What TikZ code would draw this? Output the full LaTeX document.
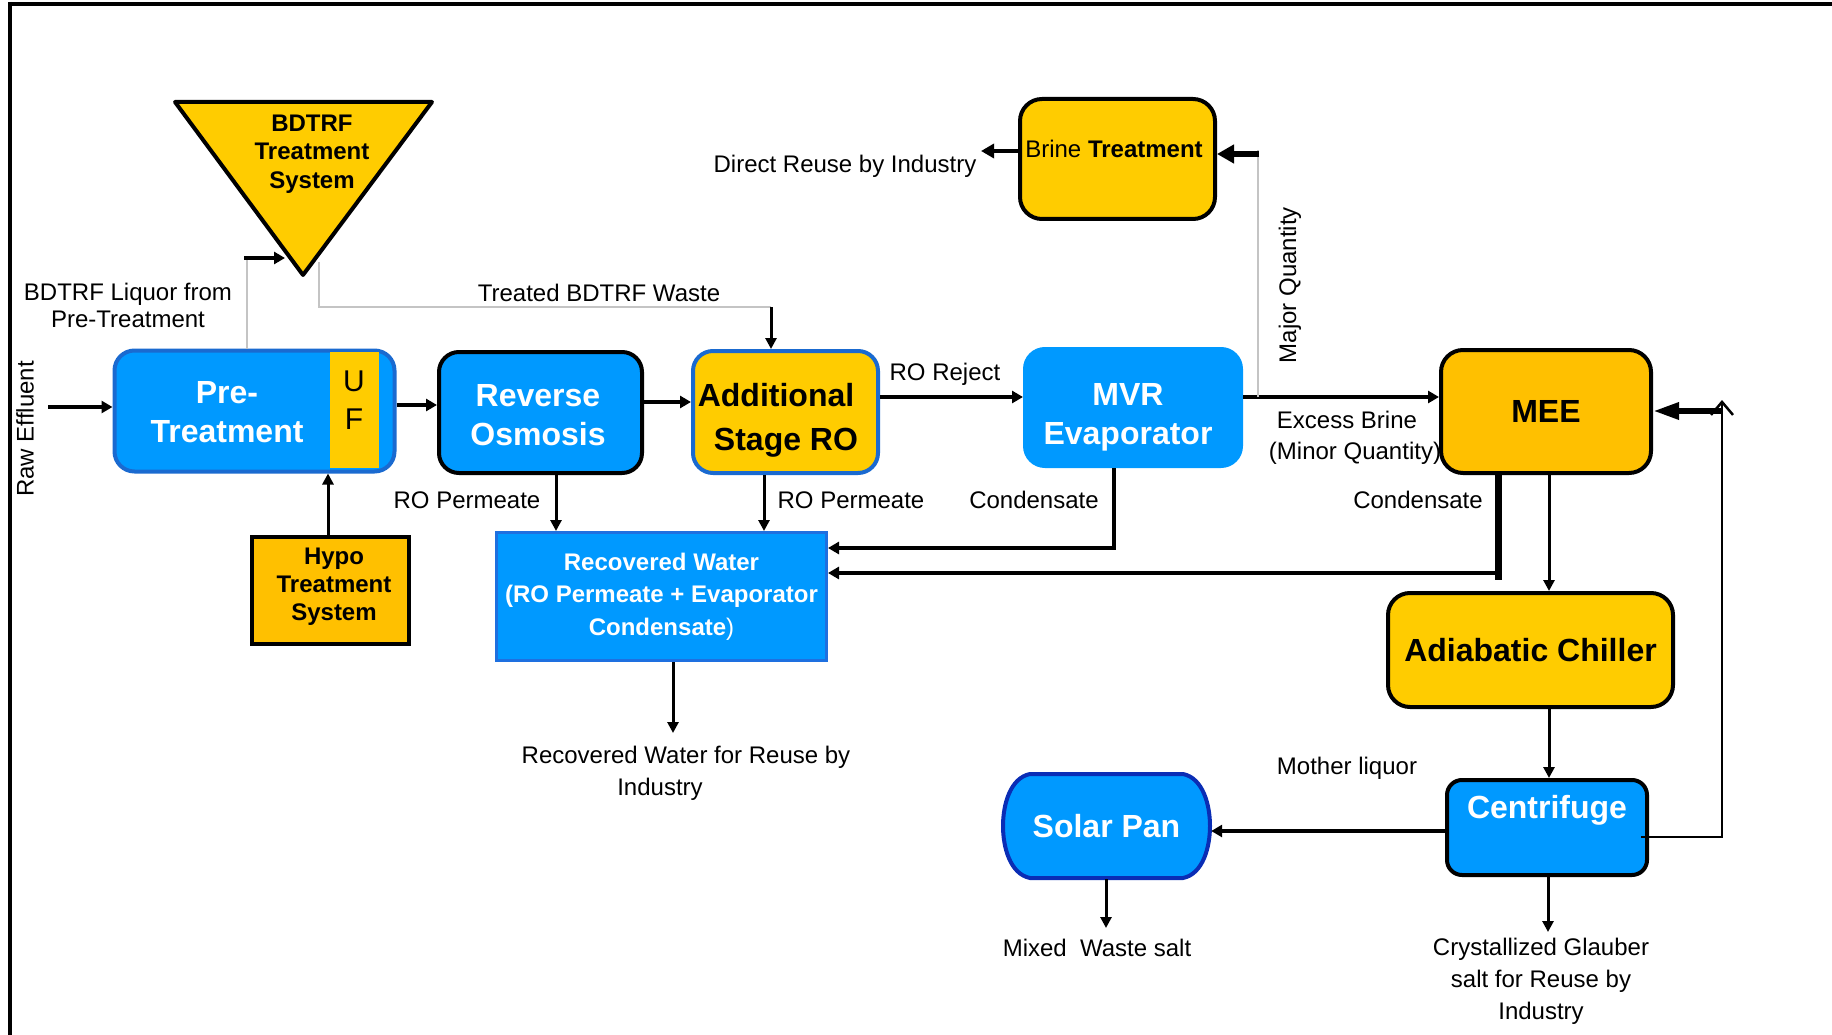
\documentclass[tikz,border=0pt]{standalone}
\usepackage{fontspec}
\setmainfont{Liberation Sans}
\usetikzlibrary{arrows.meta}
\definecolor{bfill}{HTML}{0099FF}
\definecolor{ylw}{HTML}{FFCC00}
\definecolor{org}{HTML}{FFC000}
\definecolor{bdr}{HTML}{1A6AD0}
\definecolor{bdr2}{HTML}{1E70E0}
\definecolor{dkb}{HTML}{0A2DB5}
\definecolor{gline}{HTML}{C4C4C4}
\tikzset{
  box/.style={draw, line width=4pt, rounded corners=20pt, inner sep=0pt},
  lbl/.style={font=\fontsize{24}{27}\selectfont, inner sep=0pt, align=center},
  ttl/.style={font=\fontsize{32}{39}\selectfont\bfseries, inner sep=0pt, align=center},
  flow/.style={line width=4pt, -{Triangle[length=11pt,width=12pt]}},
  thinflow/.style={line width=3pt, -{Triangle[length=11pt,width=11pt]}},
  gl/.style={gline, line width=1.2pt},
}
\begin{document}
\begin{tikzpicture}[x=1pt,y=-1pt]
\useasboundingbox (0,0) rectangle (1832,1035);
% frame
\draw[line width=4pt] (8,4) -- (1832,4);
\draw[line width=3.5pt] (10,2) -- (10,1035);

% triangle
\draw[line width=4pt, fill=ylw, line join=round] (175,102) -- (432,102) -- (303,275) -- cycle;
\node[font=\fontsize{24}{28.5}\selectfont\bfseries, align=center, inner sep=0pt] (tri) at (312,154) {BDTRF\\Treatment\\System};

% Pre-treatment
\node[box, fill=bfill, draw=bdr, minimum width=280pt, minimum height=121pt] (pre) at (254.5,411) {};
\node[fill=ylw, minimum width=49pt, minimum height=116pt, inner sep=0pt] (uf) at (354.5,410) {};
\node[font=\fontsize{30}{38}\selectfont, align=center, inner sep=0pt] (uftxt) at (354,400) {U\\F};
\node[ttl, text=white] (pretxt) at (227,412) {Pre-\\Treatment};

% Reverse osmosis
\node[box, fill=bfill, draw=black, minimum width=203pt, minimum height=121pt] (ro) at (540.5,412.5) {};
\node[ttl, text=white] (rotxt) at (538,415) {Reverse\\Osmosis};

% Additional stage RO
\node[box, fill=ylw, draw=bdr, minimum width=185pt, minimum height=122pt] (asro) at (785.5,412) {};
\node[ttl] (asrotxt1) at (776,395) {Additional};
\node[ttl] (asrotxt2) at (786,443) {Stage RO};

% MVR
\node[box, fill=bfill, draw=bfill, minimum width=216pt, minimum height=117pt] (mvr) at (1133,407.5) {};
\node[ttl, text=white] (mvrtxt) at (1128,417) {MVR\\Evaporator};

% Brine treatment
\node[box, fill=ylw, draw=black, rounded corners=22pt, minimum width=195pt, minimum height=120pt] (brine) at (1117.5,159) {};
\node[lbl] (brinetxt) at (1114,149) {Brine \textbf{Treatment}};

% MEE
\node[box, ttl, fill=org, draw=black, rounded corners=22pt, minimum width=210pt, minimum height=123pt] (mee) at (1546,411.5) {MEE};

% Adiabatic chiller
\node[box, ttl, fill=ylw, draw=black, rounded corners=22pt, minimum width=285pt, minimum height=114pt] (chiller) at (1530.5,650) {Adiabatic Chiller};

% Centrifuge
\node[box, fill=bfill, draw=black, rounded corners=15pt, minimum width=200pt, minimum height=95pt] (cent) at (1547,827.5) {};
\node[ttl, text=white] (centtxt) at (1547,810) {Centrifuge};

% Solar pan
\draw[line width=4pt, draw=dkb, fill=bfill]
  (1030,774) -- (1183,774)
  .. controls (1203,778) and (1210,805) .. (1210,826)
  .. controls (1210,847) and (1203,874) .. (1183,878)
  -- (1030,878)
  .. controls (1010,874) and (1003,847) .. (1003,826)
  .. controls (1003,805) and (1010,778) .. (1030,774) -- cycle;
\node[ttl, text=white, minimum width=209pt, minimum height=106pt] (solar) at (1106.5,826) {Solar Pan};

% Recovered water
\node[draw=bdr2, line width=3pt, fill=bfill, minimum width=330pt, minimum height=128pt,
      font=\fontsize{24}{32.5}\selectfont\bfseries, text=white, align=center, inner sep=0pt] (rw) at (661.5,596.5)
      {Recovered Water\\(RO Permeate + Evaporator\\Condensate\textmd{)}};

% Hypo
\node[draw, line width=4pt, fill=org, minimum width=157pt, minimum height=107pt] (hypo) at (330.5,590.5) {};
\node[font=\fontsize{24}{28}\selectfont\bfseries, align=center, inner sep=0pt] (hypotxt) at (334,587) {Hypo\\Treatment\\System};

% ---------- connectors
\coordinate (rawin) at (48,407);
\draw[flow] (rawin) -- (pre.west |- rawin);
\draw[flow] (pre.east |- 0,405) -- (ro.west |- 0,405);
\draw[flow] (ro.east |- 0,402) -- (asro.west |- 0,402);
\draw[flow] (asro.east |- 0,397) -- (mvr.west |- 0,397);
\draw[flow] (mvr.east |- 0,397) -- (mee.west |- 0,397);

% major quantity
\coordinate (mqb) at (1258,397);
\coordinate (mqt) at (1258,150);
\draw[gl] (mqb) -- (mqt);
\coordinate (mqa) at (1259,154);
\draw[line width=6pt, -{Triangle[length=17pt,width=18pt]}] (mqa) -- (brine.east |- mqa);

% direct reuse
\coordinate (dru) at (981,151);
\draw[line width=4.5pt, -{Triangle[length=13pt,width=14pt]}] (brine.west |- dru) -- (dru);

% BDTRF liquor
\coordinate (lq1) at (247,258);
\coordinate (lq0) at (244,258);
\coordinate (lq2) at (285,258);
\draw[gl] (pre.north -| lq1) -- (lq1);
\draw[flow] (lq0) -- (lq2);

% treated BDTRF waste
\coordinate (tw1) at (319,262);
\coordinate (tw2) at (319,307);
\coordinate (tw3) at (771,307);
\draw[gl] (tw1) -- (tw2) -- (tw3);
\draw[thinflow] (tw3) -- (asro.north -| tw3);

% permeates
\draw[thinflow] (ro.south -| 556,0) -- (rw.north -| 556,0);
\draw[thinflow] (asro.south -| 764,0) -- (rw.north -| 764,0);

% MVR condensate
\draw[line width=4.5pt, -{Triangle[length=11pt,width=12pt]}] (mvr.south -| 1114,0) |- (rw.east |- 0,548);

% MEE condensate
\coordinate (mcb) at (1498,580);
\coordinate (mcj) at (1500,573);
\draw[line width=7pt] (mee.south -| mcb) -- (mcb);
\draw[flow] (mcj) -- (rw.east |- mcj);

% MEE -> chiller -> centrifuge
\draw[thinflow] (mee.south -| 1549,0) -- (chiller.north -| 1549,0);
\draw[thinflow] (chiller.south -| 1549,0) -- (cent.north -| 1549,0);

% mother liquor
\draw[flow] (cent.west |- 0,831) -- (solar.east |- 0,831);

% return to MEE
\coordinate (rtop) at (1722,400);
\coordinate (rmid) at (1722,411);
\draw[line width=2.5pt, -{Straight Barb[length=13pt,width=22pt]}] ([xshift=-8pt]cent.east |- 0,837) -| (rtop);
\draw[line width=6pt, -{Triangle[length=26pt,width=16pt]}] (rmid) -- (mee.east |- rmid);

% outputs
\coordinate (mx) at (1106,928);
\draw[thinflow] (solar.south -| mx) -- (mx);
\coordinate (cr) at (1548,932);
\draw[thinflow] (cent.south -| cr) -- (cr);
\coordinate (rr) at (673,733);
\draw[thinflow] (rw.south -| rr) -- (rr);
\draw[thinflow] (hypo.north -| 328,0) -- (pre.south -| 328,0);

% ---------- labels
\node[lbl, rotate=90] (lraw) at (25,429) {Raw Effluent};
\node[lbl] (lliq) at (128,305) {BDTRF Liquor from\\Pre-Treatment};
\node[lbl] (ltw) at (599,293) {Treated BDTRF Waste};
\node[lbl] (ldr) at (845,166) {Direct Reuse by Industry};
\node[lbl] (lrej) at (945,374) {RO Reject};
\node[lbl, rotate=90] (lmq) at (1290,285) {Major Quantity};
\node[lbl] (lex1) at (1347,420) {Excess Brine};
\node[lbl] (lex2) at (1355,453) {(Minor Quantity)};
\node[lbl] (lrp1) at (467,500) {RO Permeate};
\node[lbl] (lrp2) at (851,500) {RO Permeate};
\node[lbl] (lcd1) at (1034,500) {Condensate};
\node[lbl] (lcd2) at (1418,500) {Condensate};
\node[lbl] (lml) at (1347,768) {Mother liquor};
\node[lbl] (lmx) at (1097,948) {Mixed\ \ Waste salt};
\node[font=\fontsize{24}{32}\selectfont, inner sep=0pt, align=center] (lcr) at (1541,981) {Crystallized Glauber\\salt for Reuse by\\Industry};
\node[lbl] (lrw1) at (686,757) {Recovered Water for Reuse by};
\node[lbl] (lrw2) at (660,789) {Industry};
\end{tikzpicture}
\end{document}
